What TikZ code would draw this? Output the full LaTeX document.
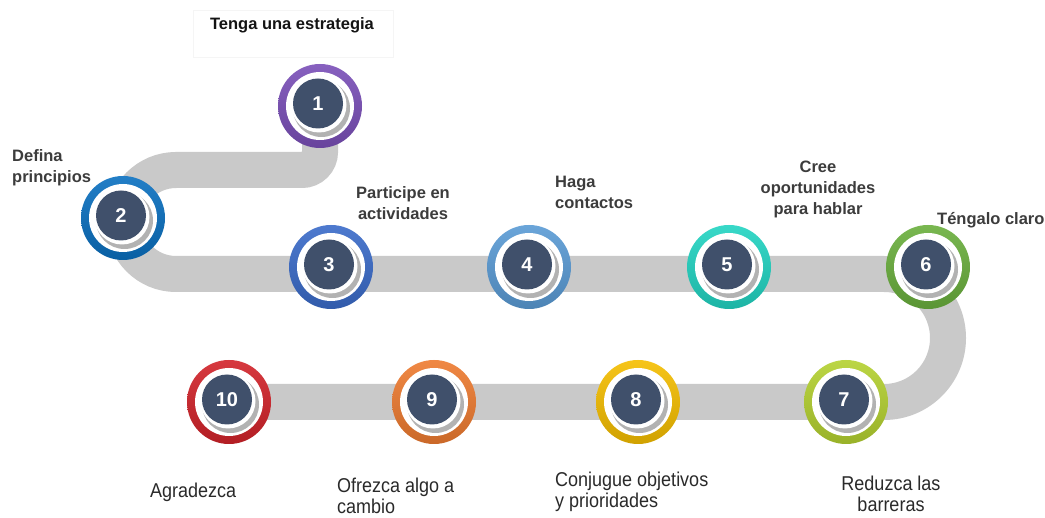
\documentclass[tikz,border=0pt]{standalone}
\usepackage{fontspec}
\setmainfont{Liberation Sans}
\newfontfamily\botfont{Liberation Sans}[FakeStretch=0.9]
\definecolor{bandgray}{HTML}{C9C9C9}
\definecolor{darkc}{HTML}{40506B}
\definecolor{toptext}{HTML}{3C3C3C}
\definecolor{bottext}{HTML}{2A2A2A}
\definecolor{cA}{HTML}{7A4FB8}
\definecolor{cB}{HTML}{0A70C0}
\definecolor{cC}{HTML}{3A6BC9}
\definecolor{cD}{HTML}{5A9BD5}
\definecolor{cE}{HTML}{22D4C2}
\definecolor{cF}{HTML}{6AAF3D}
\definecolor{cG}{HTML}{B4D130}
\definecolor{cH}{HTML}{F5BE00}
\definecolor{cI}{HTML}{EE7B30}
\definecolor{cJ}{HTML}{D2232A}
\newcommand\stepcircle[5]{%
  \node[ringnode, top color=#4!90!white, bottom color=#4!85!black] (#1) at (#2,#3) {};
  \fill[white] (#2,#3) circle (34);
  \fill[black!30] (#2+1.5,#3+2.5) circle (28.5);
  \fill[white] (#2-1,#3-1) circle (27.5);
  \fill[darkc] (#2-2,#3-2.5) circle (25);
  \node[numtxt] (#1n) at (#2-2,#3-2.5) {#5};
}
\begin{document}
\begin{tikzpicture}[x=1pt,y=-1pt,
  toplab/.style={font=\bfseries\fontsize{16.5}{21}\selectfont, text=toptext, inner sep=0pt},
  botlab/.style={font=\botfont\fontsize{20}{21.5}\selectfont, text=bottext, inner sep=0pt},
  ringnode/.style={circle, minimum size=84pt, inner sep=0pt, draw=none},
  numtxt/.style={text=white, inner sep=0pt, font=\bfseries\fontsize{20}{20}\selectfont},
  band/.style={line width=36pt, draw=bandgray}
]
\useasboundingbox (0,0) rectangle (1045,518);
\fill[white] (0,0) rectangle (1045,518);

% path coordinates
\coordinate (p1) at (320,106);
\coordinate (k1) at (320,152);
\coordinate (k2) at (176,170);
\coordinate (k3) at (884,274);
\coordinate (p10) at (229,402);

\draw[band] (p1) -- (k1) arc[start angle=0, end angle=90, radius=18]
  -- (k2) arc[start angle=-90, end angle=-270, radius=52]
  -- (k3) arc[start angle=-90, end angle=90, radius=64]
  -- (p10);

% faint title box
\draw[black!4] (193,10) rectangle (393,57);

\stepcircle{c1}{320}{106}{cA}{1}
\stepcircle{c2}{123}{218}{cB}{2}
\stepcircle{c3}{331}{267}{cC}{3}
\stepcircle{c4}{529}{267}{cD}{4}
\stepcircle{c5}{729}{267}{cE}{5}
\stepcircle{c6}{928}{267}{cF}{6}
\stepcircle{c7}{846}{402}{cG}{7}
\stepcircle{c8}{638}{402}{cH}{8}
\stepcircle{c9}{434}{402}{cI}{9}
\stepcircle{c10}{229}{402}{cJ}{10}

% labels
\node[toplab, text=black!92] (t1) at (292,25) {Tenga una estrategia};
\node[toplab, anchor=west, align=left] (t2) at (12,168) {Defina\\principios};
\node[toplab, align=center] (t3) at (403,203) {Participe en\\actividades};
\node[toplab, anchor=west, align=left] (t4) at (555,192) {Haga\\contactos};
\node[toplab, align=center] (t5) at (818,189) {Cree\\oportunidades\\para hablar};
\node[toplab, anchor=west] (t6) at (937,220) {Téngalo claro};
\node[botlab, anchor=west] (t10) at (150,492) {Agradezca};
\node[botlab, anchor=west, align=left] (t9) at (337,496) {Ofrezca algo a\\cambio};
\node[botlab, anchor=west, align=left] (t8) at (555,492) {Conjugue objetivos\\y prioridades};
\node[botlab, align=center] (t7) at (891,494) {Reduzca las\\barreras};
\end{tikzpicture}
\end{document}
